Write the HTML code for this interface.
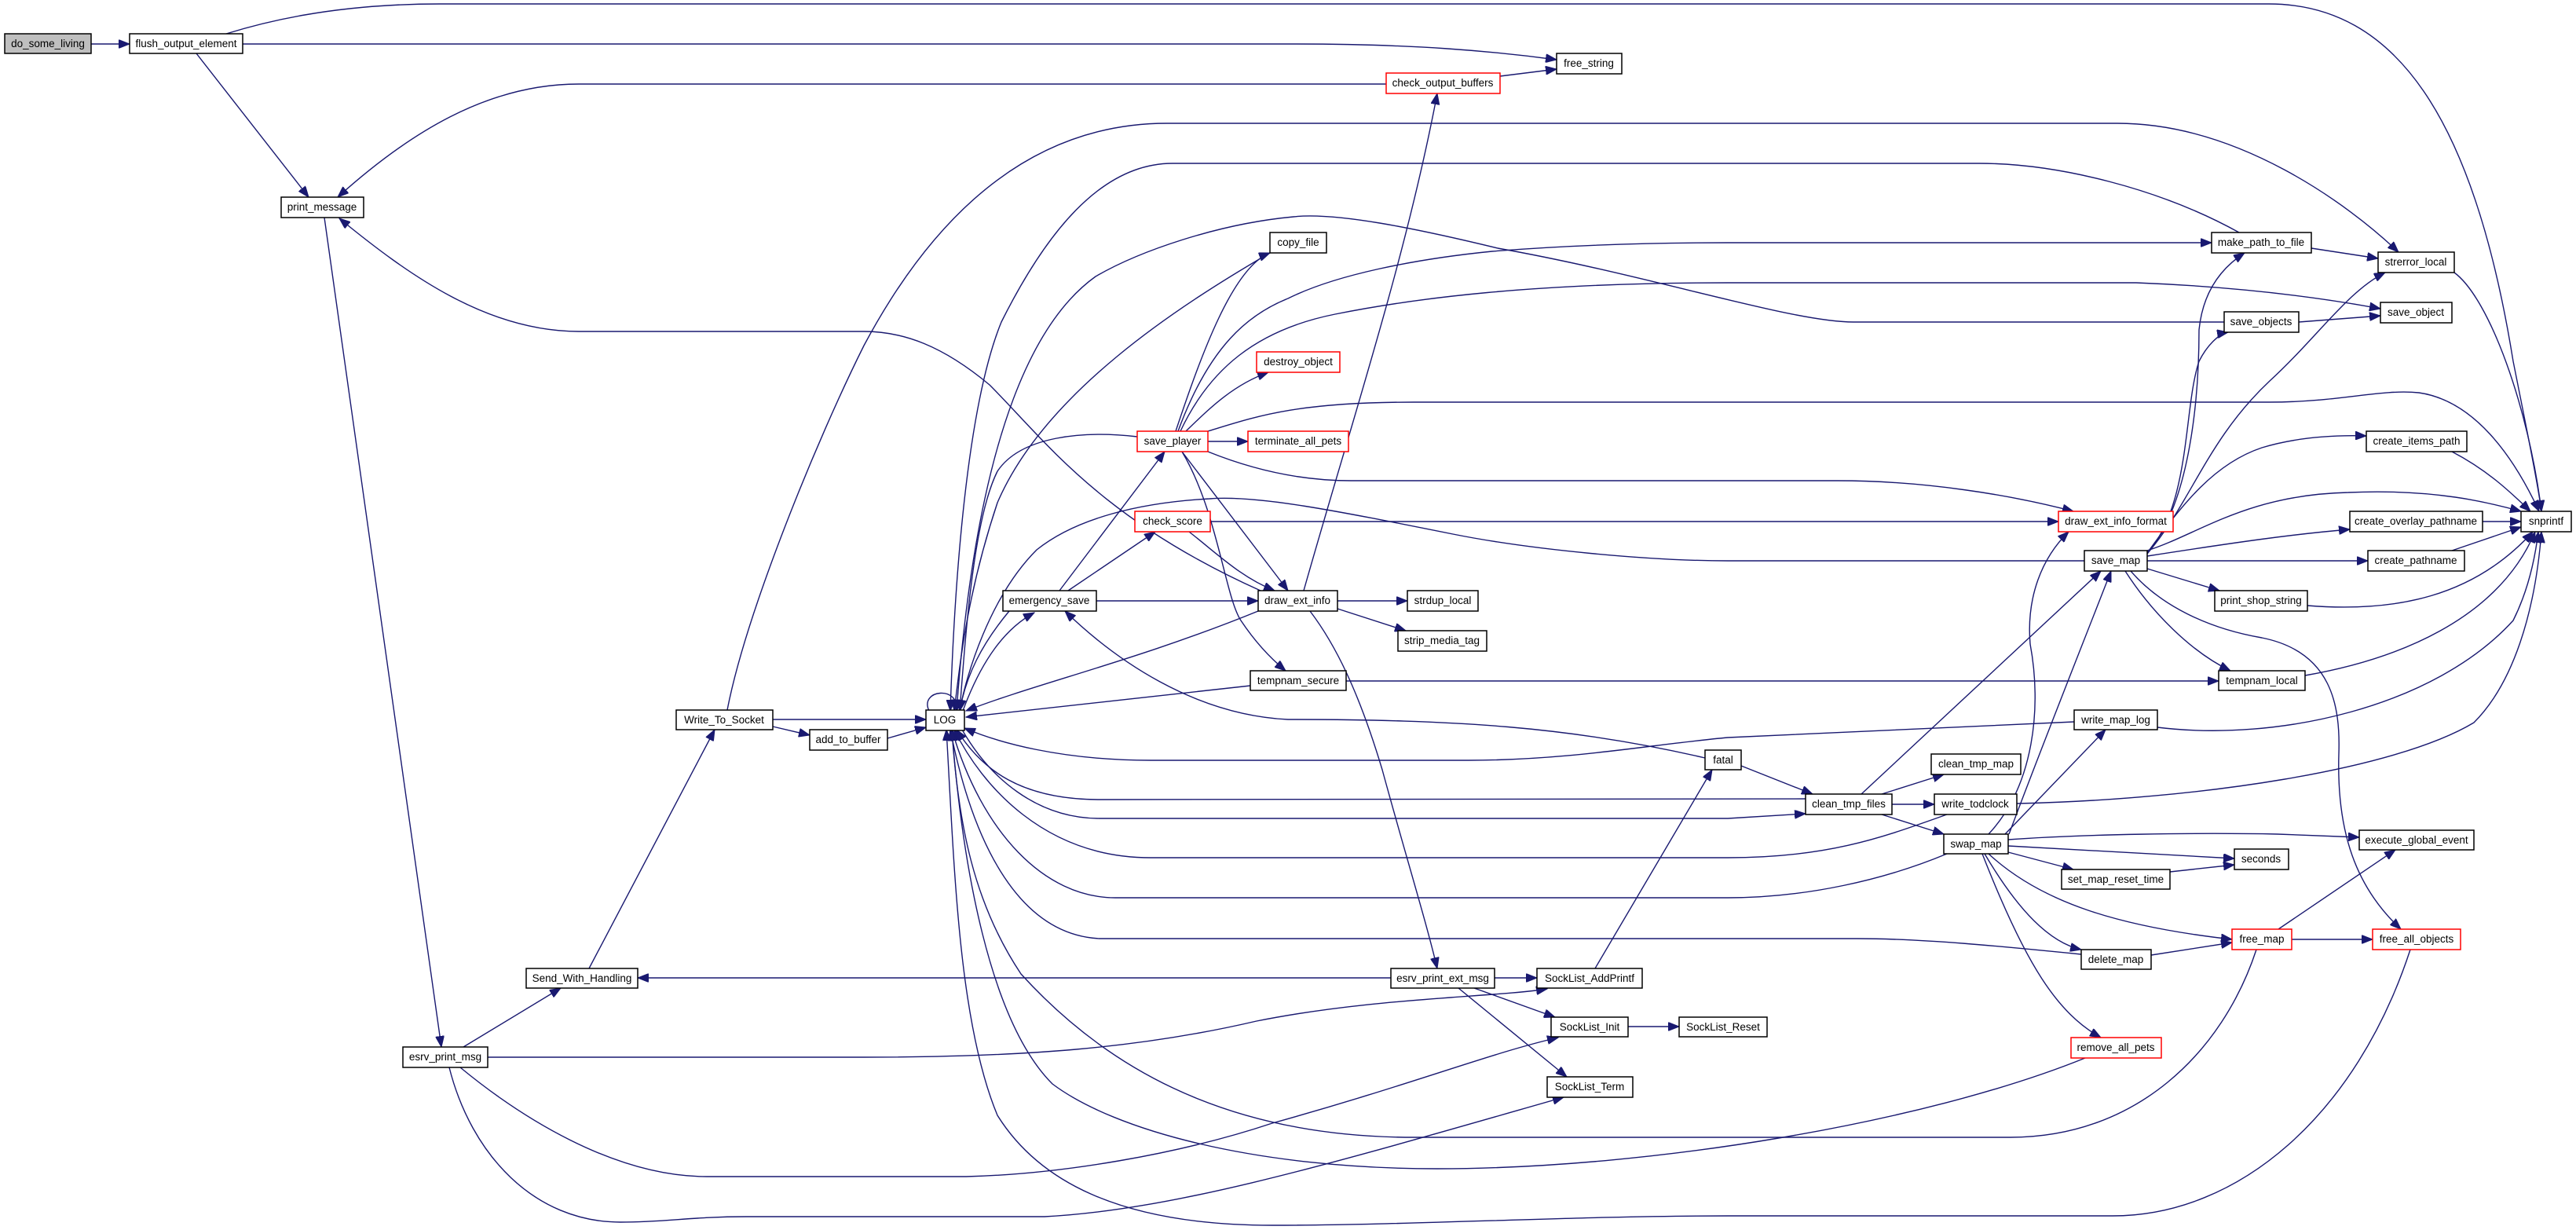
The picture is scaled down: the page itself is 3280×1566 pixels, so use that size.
<!DOCTYPE html>
<html><head><meta charset="utf-8"><style>
html,body{margin:0;padding:0;background:#fff;}
svg{display:block;}
text{font-family:"Liberation Sans",Arial,sans-serif;font-size:13.5px;fill:#000;text-anchor:middle;}
.e{fill:none;stroke:#191970;stroke-width:1.4;marker-end:url(#a);}
.n{fill:#fff;stroke:#000;stroke-width:1.5;}
.r{fill:#fff;stroke:#ff0000;stroke-width:1.5;}
</style></head><body>
<svg width="3280" height="1566" viewBox="0 0 3280 1566" xmlns="http://www.w3.org/2000/svg">
<defs><marker id="a" markerUnits="userSpaceOnUse" markerWidth="15" markerHeight="11" refX="14" refY="5.5" orient="auto"><path d="M0,0 L14,5.5 L0,11 z" fill="#191970" stroke="#191970"/></marker></defs>
<g>
<path class="e" d="M116,56 L165,56"/>
<path class="e" d="M288,43 C330,30 420,5 560,5 L2889,5 C3050,5 3150,150 3200,460 C3220,560 3232,620 3236,651"/>
<path class="e" d="M309,56 L1650,56 C1800,56 1900,65 1982,76"/>
<path class="e" d="M250,68 L393,251"/>
<path class="e" d="M1910,97 L1982,88"/>
<path class="e" d="M1765,107 L737,107 C620,107 520,170 430,251"/>
<path class="e" d="M1660,752 C1720,540 1790,330 1830,119"/>
<path class="e" d="M1605,752 C1400,660 1330,560 1260,490 C1200,440 1150,422 1100,422 L737,422 C620,422 520,350 432,278"/>
<path class="e" d="M413,277 L562,1333"/>
<path class="e" d="M590,1333 L714,1258"/>
<path class="e" d="M750,1233 L910,929"/>
<path class="e" d="M926,904 C950,780 1040,560 1100,440 C1180,290 1300,157 1486,157 L2696,157 C2850,157 2990,260 3054,321"/>
<path class="e" d="M984,916 L1179,916"/>
<path class="e" d="M984,925 L1031,936"/>
<path class="e" d="M1130,940 L1179,926"/>
<path class="e" d="M1183,905 C1170,878 1222,872 1218,905"/>
<path class="e" d="M1285,778 C1250,820 1230,860 1222,905"/>
<path class="e" d="M1226,905 C1250,840 1280,800 1317,780"/>
<path class="e" d="M1448,556 C1380,548 1300,555 1270,600 C1240,660 1230,800 1222,905"/>
<path class="e" d="M1617,322 C1500,390 1330,500 1270,640 C1230,760 1222,850 1215,905"/>
<path class="e" d="M2851,296 C2750,240 2620,208 2520,208 L1493,208 C1400,208 1330,300 1275,410 C1230,520 1215,750 1210,905"/>
<path class="e" d="M2832,410 L2360,410 C2280,410 2100,350 1907,316 C1800,290 1700,270 1647,276 C1550,285 1450,320 1395,352 C1300,420 1240,600 1218,905"/>
<path class="e" d="M1497,549 C1530,450 1570,340 1617,322"/>
<path class="e" d="M1500,549 C1540,440 1590,400 1640,380 C1700,350 1800,330 1900,320 C2000,312 2100,309 2200,309 L2816,309"/>
<path class="e" d="M1503,549 C1540,470 1600,420 1700,400 C1800,380 1950,360 2200,360 L2720,360 C2850,365 2950,378 3031,393"/>
<path class="e" d="M1510,549 C1540,520 1570,490 1615,474"/>
<path class="e" d="M1538,562 L1589,562"/>
<path class="e" d="M1538,549 C1600,530 1650,512 1800,512 L2889,512 C2980,512 3030,495 3080,500 C3150,510 3200,580 3233,651"/>
<path class="e" d="M1538,575 C1600,600 1660,612 1720,612 L2340,612 C2450,612 2560,630 2640,651"/>
<path class="e" d="M1505,575 L1640,752"/>
<path class="e" d="M1505,575 C1550,650 1560,760 1580,790 C1600,820 1620,840 1637,854"/>
<path class="e" d="M1349,752 L1483,575"/>
<path class="e" d="M1360,752 L1471,677"/>
<path class="e" d="M1396,765 L1602,765"/>
<path class="e" d="M1514,677 C1550,705 1580,735 1623,752"/>
<path class="e" d="M1541,664 L2621,664"/>
<path class="e" d="M2654,714 L2200,714 C2100,714 1950,700 1850,680 C1700,650 1600,630 1540,635 C1450,640 1370,660 1320,700 C1260,760 1230,860 1222,905"/>
<path class="e" d="M1602,778 C1450,840 1320,870 1230,905"/>
<path class="e" d="M1703,765 L1792,765"/>
<path class="e" d="M1703,775 L1790,803"/>
<path class="e" d="M1668,778 C1700,820 1730,880 1760,980 C1790,1090 1815,1170 1830,1233"/>
<path class="e" d="M1592,873 L1230,913"/>
<path class="e" d="M1714,867 L2825,867"/>
<path class="e" d="M2171,965 C2000,925 1850,916 1640,916 C1520,910 1420,840 1356,778"/>
<path class="e" d="M2641,919 L2200,939 C2100,948 2000,968 1870,968 L1465,968 C1350,968 1270,945 1228,927"/>
<path class="e" d="M2299,1017 L1400,1018 C1300,1018 1250,980 1218,929"/>
<path class="e" d="M1225,929 C1260,990 1320,1042 1400,1042 L2200,1042 L2299,1036"/>
<path class="e" d="M2479,1037 C2400,1065 2330,1092 2200,1092 L1465,1092 C1330,1092 1250,1000 1215,929"/>
<path class="e" d="M2479,1087 C2400,1120 2300,1143 2200,1143 L1420,1143 C1330,1143 1250,1060 1212,929"/>
<path class="e" d="M2650,1215 C2550,1205 2450,1195 2365,1195 L1400,1195 C1300,1190 1240,1080 1210,929"/>
<path class="e" d="M2031,1233 L2180,980"/>
<path class="e" d="M1771,1245 L812,1245"/>
<path class="e" d="M1903,1245 L1957,1245"/>
<path class="e" d="M1877,1258 L1980,1295"/>
<path class="e" d="M1857,1258 L1995,1371"/>
<path class="e" d="M2073,1307 L2138,1307"/>
<path class="e" d="M621,1346 L1100,1346 C1300,1346 1450,1335 1600,1300 C1750,1270 1900,1270 1970,1259"/>
<path class="e" d="M586,1359 C660,1420 780,1498 900,1498 L1230,1498 C1350,1495 1500,1470 1620,1430 C1800,1380 1900,1340 1984,1321"/>
<path class="e" d="M572,1359 C600,1470 680,1556 790,1556 C850,1556 880,1549 950,1549 L1330,1549 C1500,1540 1700,1480 1991,1397"/>
<path class="e" d="M2655,1347 C2450,1430 2100,1488 1830,1488 C1600,1488 1420,1440 1340,1380 C1260,1300 1225,1100 1212,929"/>
<path class="e" d="M2873,1209 C2830,1340 2720,1448 2560,1448 L1800,1448 C1550,1448 1400,1350 1300,1240 C1240,1150 1220,1050 1212,929"/>
<path class="e" d="M3069,1209 C3000,1420 2850,1548 2690,1548 L2200,1548 C2000,1548 1800,1560 1620,1560 C1420,1560 1320,1500 1270,1420 C1220,1300 1215,1100 1205,929"/>
<path class="e" d="M2734,704 C2790,640 2800,500 2800,420 C2805,370 2830,340 2858,322"/>
<path class="e" d="M2734,705 C2790,640 2780,520 2800,460 C2810,440 2825,425 2837,423"/>
<path class="e" d="M2734,705 C2790,640 2810,560 2890,485 C2950,430 2990,370 3037,347"/>
<path class="e" d="M2734,704 C2780,640 2820,590 2880,570 C2930,555 2980,554 3013,555"/>
<path class="e" d="M2734,701 C2800,680 2860,630 2990,627 C3100,622 3170,640 3210,651"/>
<path class="e" d="M2734,708 C2850,690 2920,680 2992,674"/>
<path class="e" d="M2734,714 L3015,714"/>
<path class="e" d="M2734,724 L2826,752"/>
<path class="e" d="M2706,727 C2740,780 2790,830 2840,854"/>
<path class="e" d="M2713,727 C2750,770 2810,800 2880,812 C2970,830 2980,900 2978,960 C2975,1060 3000,1130 3057,1183"/>
<path class="e" d="M2532,1062 C2590,1000 2600,900 2585,820 C2580,760 2600,710 2634,677"/>
<path class="e" d="M2370,1011 L2675,727"/>
<path class="e" d="M2558,1062 C2600,950 2640,850 2688,727"/>
<path class="e" d="M2553,1062 L2681,929"/>
<path class="e" d="M2396,1011 L2475,986"/>
<path class="e" d="M2409,1024 L2463,1024"/>
<path class="e" d="M2396,1037 L2475,1062"/>
<path class="e" d="M2217,975 L2308,1011"/>
<path class="e" d="M2557,1069 C2650,1062 2800,1060 2900,1062 L3004,1066"/>
<path class="e" d="M2557,1077 L2845,1093"/>
<path class="e" d="M2557,1085 L2640,1107"/>
<path class="e" d="M2763,1110 L2845,1101"/>
<path class="e" d="M2532,1087 C2600,1150 2700,1180 2842,1196"/>
<path class="e" d="M2527,1087 C2570,1160 2610,1200 2650,1209"/>
<path class="e" d="M2524,1087 C2580,1230 2620,1290 2675,1321"/>
<path class="e" d="M2739,1216 L2842,1200"/>
<path class="e" d="M2918,1196 L3021,1196"/>
<path class="e" d="M2901,1183 L3050,1082"/>
<path class="e" d="M3125,347 C3170,380 3220,520 3236,651"/>
<path class="e" d="M2943,316 L3028,329"/>
<path class="e" d="M2927,410 L3031,402"/>
<path class="e" d="M3122,575 C3170,600 3200,630 3222,651"/>
<path class="e" d="M3161,664 L3210,664"/>
<path class="e" d="M3122,701 L3210,671"/>
<path class="e" d="M2938,771 C3050,780 3150,760 3225,677"/>
<path class="e" d="M2935,860 C3050,840 3180,790 3228,677"/>
<path class="e" d="M2747,926 C2900,945 3100,900 3200,790 C3220,750 3228,710 3232,677"/>
<path class="e" d="M2568,1023 C2800,1018 3050,980 3150,920 C3200,870 3228,780 3236,677"/>
</g>
<g>
<rect x="6" y="43" width="110" height="25" fill="#bfbfbf" stroke="#000" stroke-width="1.5"/><text x="61" y="60">do_some_living</text>
<rect class="n" x="165" y="43" width="144" height="25"/><text x="237" y="60">flush_output_element</text>
<rect class="n" x="358" y="251" width="105" height="26"/><text x="410" y="268">print_message</text>
<rect class="n" x="1982" y="68" width="83" height="26"/><text x="2023" y="85">free_string</text>
<rect class="r" x="1765" y="93" width="145" height="26"/><text x="1837" y="110">check_output_buffers</text>
<rect class="n" x="1617" y="296" width="72" height="26"/><text x="1653" y="313">copy_file</text>
<rect class="r" x="1600" y="448" width="106" height="26"/><text x="1653" y="465">destroy_object</text>
<rect class="r" x="1448" y="549" width="90" height="26"/><text x="1493" y="566">save_player</text>
<rect class="r" x="1589" y="549" width="128" height="26"/><text x="1653" y="566">terminate_all_pets</text>
<rect class="r" x="1445" y="651" width="96" height="26"/><text x="1493" y="668">check_score</text>
<rect class="n" x="1277" y="752" width="119" height="26"/><text x="1336" y="769">emergency_save</text>
<rect class="n" x="1602" y="752" width="101" height="26"/><text x="1652" y="769">draw_ext_info</text>
<rect class="n" x="1792" y="752" width="90" height="26"/><text x="1837" y="769">strdup_local</text>
<rect class="n" x="2816" y="296" width="127" height="26"/><text x="2879" y="313">make_path_to_file</text>
<rect class="n" x="3028" y="321" width="97" height="26"/><text x="3076" y="338">strerror_local</text>
<rect class="n" x="3031" y="385" width="91" height="26"/><text x="3076" y="402">save_object</text>
<rect class="n" x="2832" y="397" width="95" height="26"/><text x="2879" y="414">save_objects</text>
<rect class="n" x="3013" y="549" width="128" height="26"/><text x="3077" y="566">create_items_path</text>
<rect class="n" x="3210" y="651" width="64" height="26"/><text x="3242" y="668">snprintf</text>
<rect class="r" x="2621" y="651" width="146" height="26"/><text x="2694" y="668">draw_ext_info_format</text>
<rect class="n" x="2992" y="651" width="169" height="26"/><text x="3076" y="668">create_overlay_pathname</text>
<rect class="n" x="2654" y="701" width="80" height="26"/><text x="2694" y="718">save_map</text>
<rect class="n" x="3015" y="701" width="123" height="26"/><text x="3076" y="718">create_pathname</text>
<rect class="n" x="2820" y="752" width="118" height="26"/><text x="2879" y="769">print_shop_string</text>
<rect class="n" x="861" y="904" width="123" height="25"/><text x="922" y="921">Write_To_Socket</text>
<rect class="n" x="1031" y="929" width="99" height="26"/><text x="1080" y="946">add_to_buffer</text>
<rect class="n" x="670" y="1233" width="142" height="25"/><text x="741" y="1250">Send_With_Handling</text>
<rect class="n" x="513" y="1333" width="108" height="26"/><text x="567" y="1350">esrv_print_msg</text>
<rect class="n" x="1179" y="904" width="49" height="26"/><text x="1203" y="921">LOG</text>
<rect class="n" x="1780" y="803" width="113" height="26"/><text x="1836" y="820">strip_media_tag</text>
<rect class="n" x="1592" y="854" width="122" height="25"/><text x="1653" y="871">tempnam_secure</text>
<rect class="n" x="2171" y="955" width="46" height="25"/><text x="2194" y="972">fatal</text>
<rect class="n" x="1771" y="1233" width="132" height="25"/><text x="1837" y="1250">esrv_print_ext_msg</text>
<rect class="n" x="1957" y="1233" width="134" height="25"/><text x="2024" y="1250">SockList_AddPrintf</text>
<rect class="n" x="1975" y="1295" width="98" height="25"/><text x="2024" y="1312">SockList_Init</text>
<rect class="n" x="2138" y="1295" width="112" height="25"/><text x="2194" y="1312">SockList_Reset</text>
<rect class="n" x="1970" y="1371" width="109" height="26"/><text x="2024" y="1388">SockList_Term</text>
<rect class="n" x="2825" y="854" width="110" height="25"/><text x="2880" y="871">tempnam_local</text>
<rect class="n" x="2641" y="904" width="106" height="25"/><text x="2694" y="921">write_map_log</text>
<rect class="n" x="2459" y="960" width="114" height="26"/><text x="2516" y="977">clean_tmp_map</text>
<rect class="n" x="2299" y="1011" width="110" height="26"/><text x="2354" y="1028">clean_tmp_files</text>
<rect class="n" x="2463" y="1011" width="105" height="26"/><text x="2515" y="1028">write_todclock</text>
<rect class="n" x="2475" y="1062" width="82" height="25"/><text x="2516" y="1079">swap_map</text>
<rect class="n" x="3004" y="1057" width="146" height="25"/><text x="3077" y="1074">execute_global_event</text>
<rect class="n" x="2845" y="1081" width="69" height="26"/><text x="2879" y="1098">seconds</text>
<rect class="n" x="2625" y="1107" width="138" height="25"/><text x="2694" y="1124">set_map_reset_time</text>
<rect class="r" x="2842" y="1183" width="76" height="26"/><text x="2880" y="1200">free_map</text>
<rect class="r" x="3021" y="1183" width="112" height="26"/><text x="3077" y="1200">free_all_objects</text>
<rect class="n" x="2650" y="1209" width="89" height="25"/><text x="2694" y="1226">delete_map</text>
<rect class="r" x="2637" y="1321" width="115" height="26"/><text x="2694" y="1338">remove_all_pets</text>
</g>
</svg>
</body></html>
